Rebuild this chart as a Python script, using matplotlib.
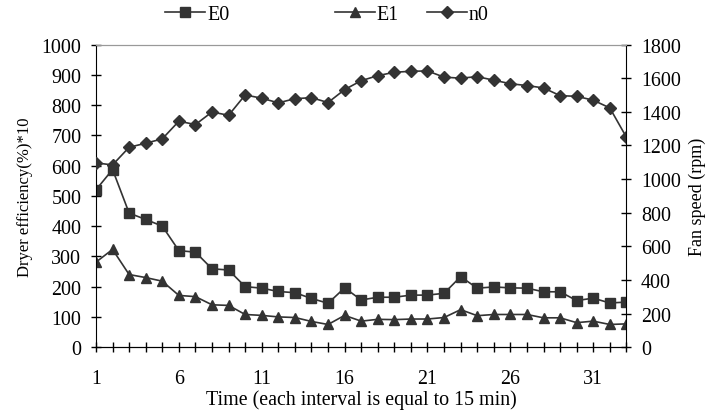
import matplotlib.pyplot as plt
import numpy as np
from matplotlib.ticker import MultipleLocator, FixedLocator

plt.rcParams['font.family'] = ['Liberation Serif', 'DejaVu Serif']

# time index (each interval = 15 min)
t = np.arange(1, 34)

# dryer efficiency (%)*10
E0 = [520, 587, 443, 422, 400, 319, 314, 259, 255, 200, 195, 184, 180, 161, 145, 196,
      156, 165, 165, 172, 172, 178, 233, 195, 199, 196, 195, 183, 183, 154, 162, 146, 149]
E1 = [281, 323, 240, 230, 218, 171, 167, 140, 138, 108, 105, 100, 98, 85, 75, 105,
      86, 92, 91, 93, 93, 98, 124, 104, 108, 108, 108, 97, 97, 81, 86, 75, 77]
# fan speed (rpm)
n0 = [1096, 1084, 1189, 1213, 1239, 1344, 1324, 1399, 1379, 1500, 1481, 1453, 1478, 1484, 1455, 1532,
      1585, 1615, 1635, 1641, 1643, 1606, 1600, 1609, 1588, 1567, 1556, 1542, 1496, 1492, 1469, 1423, 1249]

c = '#333333'
fs = 14.4

fig = plt.figure(figsize=(7.11, 4.14), dpi=100)
ax = fig.add_axes([0.135, 0.159, 0.746, 0.731])
ax2 = ax.twinx()

l1, = ax.plot(t, E0, color=c, marker='s', ms=7, lw=1.2, label='E0')
l2, = ax.plot(t, E1, color=c, marker='^', ms=7.5, lw=1.2, label='E1')
l3, = ax2.plot(t, n0, color=c, marker='D', ms=6, lw=1.2, label='n0')

ax.set_xlim(1, 33)
ax.set_ylim(0, 1000)
ax2.set_ylim(0, 1800)
ax.yaxis.set_major_locator(MultipleLocator(100))
ax2.yaxis.set_major_locator(MultipleLocator(200))
ax.xaxis.set_major_locator(FixedLocator([1, 6, 11, 16, 21, 26, 31]))
ax.xaxis.set_minor_locator(MultipleLocator(1))

for a in (ax, ax2):
    a.spines['top'].set_color('#999999')
    a.tick_params(which='both', direction='inout', length=7, width=1, color='black',
                  labelsize=fs, pad=7)
ax.spines['right'].set_visible(False)
ax2.spines['left'].set_visible(False)
ax.tick_params(axis='x', which='both', pad=12)

ax.set_xlabel('Time (each interval is equal to 15 min)', fontsize=fs, labelpad=1)
ax.set_ylabel('Dryer efficiency(%)*10', fontsize=12, labelpad=6)
ax2.set_ylabel('Fan speed (rpm)', fontsize=13, labelpad=6)

# legend above the plot, E0 set apart from E1 / n0 as in the original
leg_kw = dict(frameon=False, fontsize=fs, handlelength=2.0, handletextpad=0.1,
              borderaxespad=0, borderpad=0, loc='center left')
fig.legend(handles=[l1], bbox_to_anchor=(0.232, 0.963), **leg_kw)
fig.legend(handles=[l2, l3], bbox_to_anchor=(0.471, 0.963), ncol=2,
           columnspacing=1.4, **leg_kw)

fig.savefig('out.png', dpi=100)
